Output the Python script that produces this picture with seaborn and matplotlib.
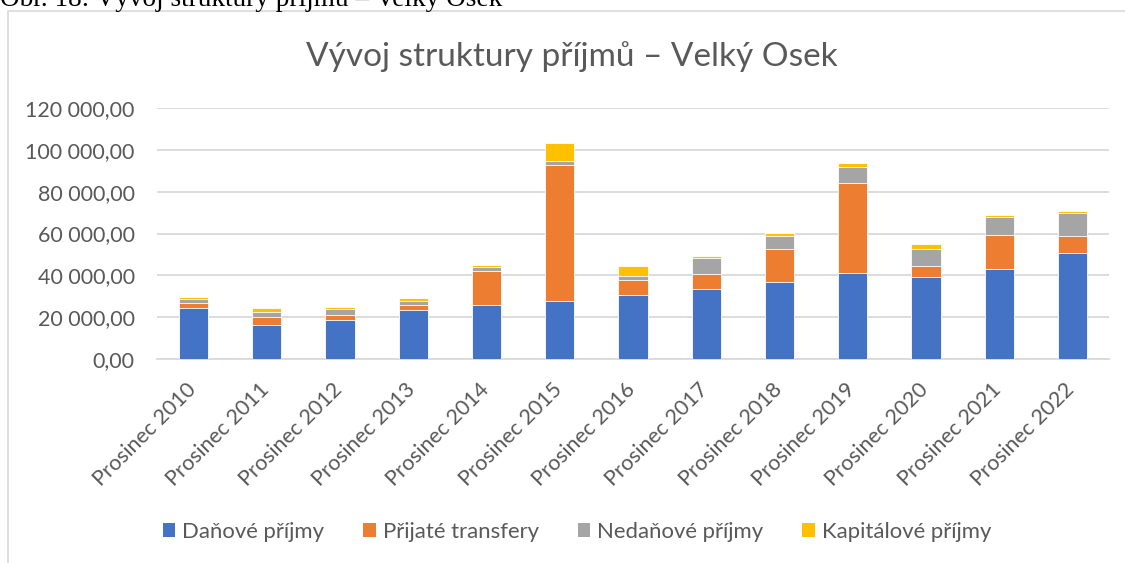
import matplotlib
matplotlib.use("Agg")
import matplotlib.pyplot as plt
from matplotlib.patches import Rectangle, Patch
from matplotlib.ticker import FuncFormatter, MultipleLocator
from matplotlib.transforms import ScaledTranslation
import seaborn as sns
import pandas as pd
import numpy as np

categories = ["Prosinec 2010", "Prosinec 2011", "Prosinec 2012", "Prosinec 2013",
              "Prosinec 2014", "Prosinec 2015", "Prosinec 2016", "Prosinec 2017",
              "Prosinec 2018", "Prosinec 2019", "Prosinec 2020", "Prosinec 2021",
              "Prosinec 2022"]
danove = [24400, 16100, 18650, 23450, 26000, 27750, 30450, 33650, 37000, 40950, 39050, 43200, 50700]
transfery = [2400, 4000, 2550, 2550, 15950, 64900, 7150, 7200, 15650, 43400, 5600, 16100, 8300]
nedanove = [2050, 2550, 2550, 1900, 2100, 2250, 2250, 7500, 6000, 7500, 8150, 8450, 10650]
kapitalove = [850, 1750, 1150, 1100, 1100, 8250, 4650, 1100, 1450, 1750, 2400, 1150, 1150]
series_names = ["Daňové příjmy", "Přijaté transfery", "Nedaňové příjmy", "Kapitálové příjmy"]
colors = ["#4472C4", "#ED7D31", "#A5A5A5", "#FFC000"]
title = "Vývoj struktury příjmů – Velký Osek"
caption = "Obr. 18: Vývoj struktury příjmů – Velký Osek"

sns.set_theme(style="white")
plt.rcParams['font.family'] = ['Lato', 'DejaVu Sans']

df = pd.DataFrame({"cat": categories,
                   series_names[0]: danove,
                   series_names[1]: transfery,
                   series_names[2]: nedanove,
                   series_names[3]: kapitalove})
cum = df[series_names].cumsum(axis=1)

fig = plt.figure(figsize=(11.25, 5.63), dpi=100)
ax = fig.add_axes([157/1125, 1-359/563, (1109-157)/1125, (359-108)/563])

# chart border
fig.patches.append(Rectangle((8/1125, -0.1), 1.2, 1 - 11/563 + 0.1, transform=fig.transFigure,
                             fill=False, edgecolor="#D9D9D9", linewidth=1.2, zorder=0))

for name, col in reversed(list(zip(series_names, colors))):
    sns.barplot(x=df["cat"], y=cum[name], color=col, ax=ax, width=0.4,
                edgecolor="white", linewidth=0.6, saturation=1, zorder=3)

ax.set_ylim(0, 120000)
ax.set_xlim(-0.5, len(categories) - 0.5)
ax.yaxis.set_major_locator(MultipleLocator(20000))
ax.yaxis.set_major_formatter(FuncFormatter(lambda v, p: f"{v:,.2f}".replace(",", " ").replace(".", ",")))
ax.grid(axis="y", color="#D9D9D9", linewidth=1.3, zorder=0)
ax.set_axisbelow(True)
for s in ["top", "right", "left"]:
    ax.spines[s].set_visible(False)
ax.spines["bottom"].set_color("#D9D9D9")
ax.spines["bottom"].set_linewidth(1.3)
ax.set_xlabel("")
ax.set_ylabel("")
ax.tick_params(axis="y", length=0, pad=16, labelsize=15.5, labelcolor="#595959")
ax.tick_params(axis="x", length=0, pad=6, labelsize=15.5, labelcolor="#595959")
offset = ScaledTranslation(-8/100, -12/100, fig.dpi_scale_trans)
for lab in ax.get_xticklabels():
    lab.set_rotation(45)
    lab.set_ha("right")
    lab.set_rotation_mode("anchor")
    lab.set_transform(lab.get_transform() + offset)

fig.text(572/1125, 1-57/563, title, ha="center", va="center", fontsize=24, color="#595959")
fig.text(0.0, 1-6/563, caption, ha="left", va="baseline", fontsize=19.6,
         family=["Liberation Serif", "DejaVu Serif"], color="black")

handles = [Patch(facecolor=c, edgecolor="none") for c in colors]
fig.legend(handles, series_names, loc="center", bbox_to_anchor=(577/1125, 1-532/563),
           ncol=4, frameon=False, fontsize=15.9, labelcolor="#595959",
           handlelength=0.58, handleheight=0.58, handletextpad=0.32, columnspacing=1.75)

fig.savefig("out.png", dpi=100)
